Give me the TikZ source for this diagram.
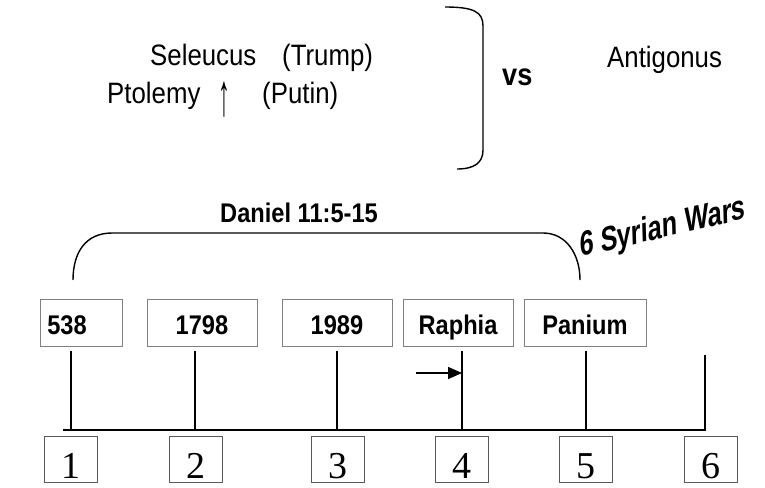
\documentclass[tikz,border=0pt]{standalone}
\usepackage{fontspec}
\setmainfont{Liberation Sans}[FakeStretch=0.875]
\newfontfamily\warsfont{Liberation Sans}[FakeStretch=0.76,FakeSlant=0.2]
\newfontfamily\numfont{Liberation Serif}
\usetikzlibrary{arrows.meta}
\tikzset{
  txt/.style={inner sep=0pt, anchor=base west, font=\fontsize{29.5}{32}\selectfont},
  boldtxt/.style={inner sep=0pt, anchor=base west, font=\bfseries\fontsize{27}{30}\selectfont},
  yearbox/.style={draw=black!50, line width=0.8pt, minimum height=47pt, inner sep=0pt,
    text height=23pt, text depth=0pt, font=\bfseries\fontsize{27}{30}\selectfont},
  numbox/.style={draw=black!65, line width=0.8pt, minimum width=53pt, minimum height=46pt,
    inner sep=0pt, text height=38pt, text depth=0pt, font=\numfont\fontsize{38}{40}\selectfont},
  tick/.style={line width=1.5pt},
  bar/.style={line width=2pt},
  brace/.style={line width=1.4pt},
}
\begin{document}
\begin{tikzpicture}[x=1pt,y=-1pt]
\useasboundingbox (0,0) rectangle (765,487);

% top texts
\node[txt] (sel) at (150,65) {Seleucus};
\node[txt] (trump) at (282,65) {(Trump)};
\node[txt] (ptol) at (107,103) {Ptolemy};
\node[inner sep=0pt, anchor=base, yscale=2, xscale=0.9, text height=18pt, text depth=0pt,
  font=\fontsize{30}{32}\selectfont] (uparr) at (224,115) {↑};
\node[txt] (putin) at (262,103) {(Putin)};
\node[inner sep=0pt, anchor=base west, font=\bfseries\fontsize{31}{33}\selectfont] (vs) at (502,85) {vs};
\node[txt] (anti) at (607,67) {Antigonus};

% right bracket
\coordinate (rbt) at (445,7);
\coordinate (rbb) at (457,169);
\draw[brace] (rbt) .. controls (474,7) and (483,12) .. (483,26) -- (483,150)
  .. controls (483,163) and (474,169) .. (rbb);

% Daniel brace
\node[boldtxt] (dan) at (220,222) {Daniel 11:5-15};
\coordinate (dl) at (73,280);
\coordinate (dr) at (580,280);
\draw[brace] (dl) .. controls (73,252) and (86,233) .. (112,233) -- (543,233)
  .. controls (566,233) and (580,254) .. (dr);

% 6 Syrian Wars
\node[inner sep=0pt, anchor=base west, rotate=13,
  font=\warsfont\bfseries\fontsize{34}{36}\selectfont] (wars) at (580,257) {6 Syrian Wars};

% year boxes
\node[yearbox, minimum width=82pt] (b1) at (81,322.5) {538\hspace*{28pt}};
\node[yearbox, minimum width=110pt] (b2) at (202,322.5) {1798};
\node[yearbox, minimum width=110pt] (b3) at (337,322.5) {1989};
\node[yearbox, minimum width=110pt] (b4) at (458,322.5) {Raphia};
\node[yearbox, minimum width=122pt] (b5) at (585,322.5) {Panium};

% ticks and bar
\coordinate (t1) at (71,351);  \coordinate (u1) at (71,430);
\coordinate (t2) at (195,351); \coordinate (u2) at (195,430);
\coordinate (t3) at (337,351); \coordinate (u3) at (337,430);
\coordinate (t4) at (462,351); \coordinate (u4) at (462,430);
\coordinate (t5) at (586,351); \coordinate (u5) at (586,430);
\coordinate (t6) at (705,355); \coordinate (u6) at (705,430);
\coordinate (barL) at (63,430);
\draw[tick] (t1) -- (u1);
\draw[tick] (t2) -- (u2);
\draw[tick] (t3) -- (u3);
\draw[tick] (t4) -- (u4);
\draw[tick] (t5) -- (u5);
\draw[bar] (barL) -- (u6) -- (t6);

% arrow to Raphia line
\coordinate (as) at (416,373);
\coordinate (ae) at (462,373);
\draw[line width=1.5pt, -{Triangle[length=14pt,width=12pt]}] (as) -- (ae);

% number boxes
\node[numbox] (n1) at (70.5,459) {1};
\node[numbox] (n2) at (195.5,459) {2};
\node[numbox] (n3) at (337.5,459) {3};
\node[numbox] (n4) at (461.5,459) {4};
\node[numbox] (n5) at (585.5,459) {5};
\node[numbox] (n6) at (710.5,459) {6};
\end{tikzpicture}
\end{document}
